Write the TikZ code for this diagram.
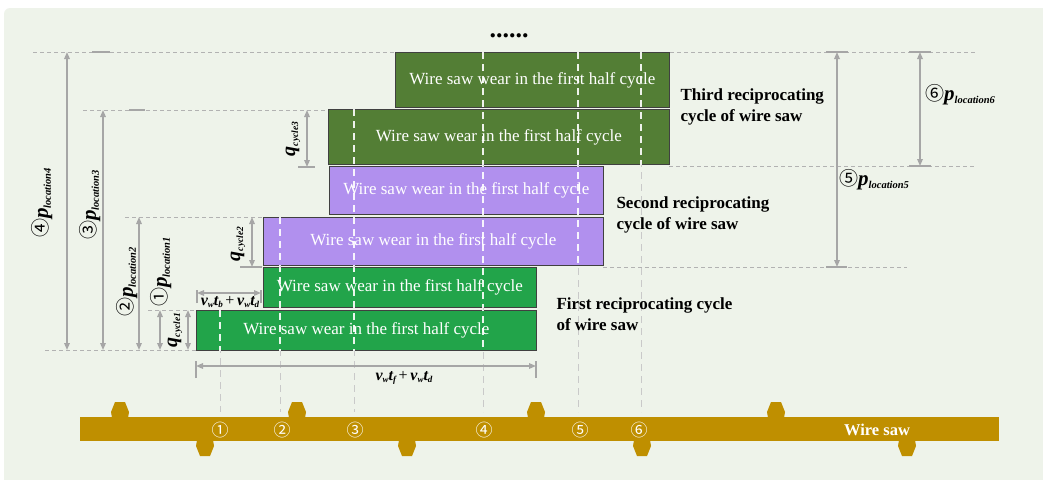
\documentclass[tikz,border=0pt]{standalone}
\usepackage{fontspec}
\setmainfont{Liberation Serif}
\newfontfamily\circfont{Noto Sans CJK SC}
\usetikzlibrary{arrows.meta}

\definecolor{bgpanel}{HTML}{EEF3EA}
\definecolor{cycA}{HTML}{22A44A}
\definecolor{cycB}{HTML}{B190EE}
\definecolor{cycC}{HTML}{537E35}
\definecolor{sawgold}{HTML}{BF8F00}
\definecolor{dimgray}{HTML}{A6A6A6}
\definecolor{guidegray}{HTML}{B2B2B2}

% p_{location n} with a circled index
\newcommand\ploc[2]{{\circfont\fontsize{19}{19}\selectfont #1}{\fontsize{21}{21}\selectfont\bfseries\itshape p}\raisebox{-3pt}{\fontsize{10.5}{10.5}\selectfont\bfseries\itshape location#2}}
% q_{cycle n}
\newcommand\qcyc[1]{{\fontsize{20}{20}\selectfont\bfseries\itshape q}\raisebox{-3pt}{\fontsize{9.5}{9.5}\selectfont\bfseries\itshape cycle#1}}
% v_w t_x
\newcommand\vwt[1]{{\bfseries\itshape v}\raisebox{-2.5pt}{\fontsize{9}{9}\selectfont\bfseries\itshape w}{\bfseries\itshape t}\raisebox{-2.5pt}{\fontsize{9}{9}\selectfont\bfseries\itshape #1}}

\begin{document}
\begin{tikzpicture}[x=1pt,y=-1pt,
  guide/.style={draw=guidegray, line width=0.9pt, dash pattern=on 4pt off 3pt},
  vguide/.style={draw=guidegray!70, line width=1pt, dash pattern=on 7pt off 5pt},
  vguidew/.style={draw=white, line width=1.1pt, dash pattern=on 7pt off 5pt, opacity=0.9},
  wearbox/.style={draw=black!75, line width=0.8pt, anchor=north west, inner sep=0pt,
    text=white, font=\fontsize{17}{17}\selectfont},
  dimarrow/.style={draw=dimgray, line width=1.5pt,
    {Triangle[length=7pt,width=5.5pt]}-{Triangle[length=7pt,width=5.5pt]}},
  dimtick/.style={draw=dimgray, line width=1.2pt},
  cyclabel/.style={anchor=west, align=left, font=\fontsize{17}{21}\selectfont\bfseries},
  dimlabel/.style={inner sep=0pt},
  posmark/.style={text=white, inner sep=0pt, font=\circfont\fontsize{17}{17}\selectfont},
]
\useasboundingbox (0,0) rectangle (1043,479);
\fill[white] (0,0) rectangle (1043,479);
\fill[bgpanel, rounded corners=6pt] (4,8) rectangle (1060,495);

% horizontal guide lines
\draw[guide] (33,52) -- (975,52);
\draw[guide] (83,110) -- (328,110);
\draw[guide] (125,217) -- (263,217);
\draw[guide] (148,310) -- (196,310);
\draw[guide] (45,350) -- (196,350);
\draw[guide] (669,166) -- (975,166);
\draw[guide] (603,267) -- (907,267);

% short solid ticks on the guides
\draw[dimtick] (92,52) -- (110,52);
\draw[dimtick] (826,52) -- (848,52);
\draw[dimtick] (909,52) -- (931,52);
\draw[dimtick] (129,110) -- (145,110);
\draw[dimtick] (298,167) -- (315,167);
\draw[dimtick] (240,267) -- (262,267);
\draw[dimtick] (826,267) -- (847,267);
\draw[dimtick] (909,166) -- (931,166);

% vertical position lines
\foreach \x/\y in {220/310, 280/217, 354/109, 483/52, 578/52, 641/52}
  \draw[vguide] (\x,\y) -- (\x,412);

% wear blocks
\node[wearbox, fill=cycA, minimum width=340pt, minimum height=40pt] (b1) at (196,310) {Wire saw wear in the first half cycle};
\node[wearbox, fill=cycA, minimum width=273pt, minimum height=40pt] (b2) at (263,267) {Wire saw wear in the first half cycle};
\node[wearbox, fill=cycB, minimum width=340pt, minimum height=48pt] (b3) at (263,217) {Wire saw wear in the first half cycle};
\node[wearbox, fill=cycB, minimum width=274pt, minimum height=48pt] (b4) at (329,166) {Wire saw wear in the first half cycle};
\node[wearbox, fill=cycC, minimum width=341pt, minimum height=55pt] (b5) at (328,109) {Wire saw wear in the first half cycle};
\node[wearbox, fill=cycC, minimum width=274pt, minimum height=55pt] (b6) at (395,52) {Wire saw wear in the first half cycle};

% position lines show white across the blocks
\begin{scope}
  \clip (b1.north west) rectangle (b1.south east)
        (b2.north west) rectangle (b2.south east)
        (b3.north west) rectangle (b3.south east)
        (b4.north west) rectangle (b4.south east)
        (b5.north west) rectangle (b5.south east)
        (b6.north west) rectangle (b6.south east);
  \foreach \x/\y in {220/310, 280/217, 354/109, 483/52, 578/52, 641/52}
    \draw[vguidew] (\x,\y) -- (\x,412);
\end{scope}

% cycle captions
\node[cyclabel] (c3) at (677,107) {Third reciprocating\\cycle of wire saw};
\node[cyclabel] (c2) at (613,215) {Second reciprocating\\cycle of wire saw};
\node[cyclabel] (c1) at (553,314) {First reciprocating cycle\\of wire saw};
\node[font=\fontsize{26}{26}\selectfont\bfseries, inner sep=0pt] (dots) at (509,36) {......};

% dimension end points
\coordinate (p4t) at (67,52);   \coordinate (p4b) at (67,350);
\coordinate (p3t) at (103,110); \coordinate (p3b) at (103,350);
\coordinate (p2t) at (139,217); \coordinate (p2b) at (139,350);
\coordinate (p1t) at (160,310); \coordinate (p1b) at (160,350);
\coordinate (q1t) at (188,310); \coordinate (q1b) at (188,350);
\coordinate (q2t) at (252,217); \coordinate (q2b) at (252,267);
\coordinate (q3t) at (307,110); \coordinate (q3b) at (307,167);
\coordinate (p5t) at (837,52);  \coordinate (p5b) at (837,267);
\coordinate (p6t) at (920,52);  \coordinate (p6b) at (920,166);
\coordinate (hbl) at (197,293); \coordinate (hbr) at (261,293);
\coordinate (hfl) at (196,366); \coordinate (hfr) at (536,366);

\draw[dimarrow] (p4t) -- (p4b);
\draw[dimarrow] (p3t) -- (p3b);
\draw[dimarrow] (p2t) -- (p2b);
\draw[dimarrow] (p1t) -- (p1b);
\draw[dimarrow] (q1t) -- (q1b);
\draw[dimarrow] (q2t) -- (q2b);
\draw[dimarrow] (q3t) -- (q3b);
\draw[dimarrow] (p5t) -- (p5b);
\draw[dimarrow] (p6t) -- (p6b);
\draw[dimarrow] (hbl) -- (hbr);
\draw[dimarrow] (hfl) -- (hfr);

% extension ticks of the horizontal dimensions
\draw[dimtick] ([yshift=-10pt]hbl) -- ([yshift=3pt]hbl);
\draw[dimtick] ([yshift=-10pt]hbr) -- ([yshift=3pt]hbr);
\draw[dimtick] ([yshift=-12pt]hfl) -- ([yshift=5pt]hfl);
\draw[dimtick] ([yshift=-12pt]hfr) -- ([yshift=5pt]hfr);

% dimension labels
\node[dimlabel, rotate=90] (l4) at (42,203) {\ploc{④}{4}};
\node[dimlabel, rotate=90] (l3) at (90,205) {\ploc{③}{3}};
\node[dimlabel, rotate=90] (l2) at (127,282) {\ploc{②}{2}};
\node[dimlabel, rotate=90] (l1) at (161,272) {\ploc{①}{1}};
\node[dimlabel, rotate=90] (lq1) at (175,330) {\qcyc{1}};
\node[dimlabel, rotate=90] (lq2) at (238,244) {\qcyc{2}};
\node[dimlabel, rotate=90] (lq3) at (293,139) {\qcyc{3}};
\node[dimlabel, anchor=west] (l5) at (839,180) {\ploc{⑤}{5}};
\node[dimlabel, anchor=west] (l6) at (925,95) {\ploc{⑥}{6}};
\node[dimlabel, font=\fontsize{16}{16}\selectfont] (lb) at (230,302) {\vwt{b}\,+\,\vwt{d}};
\node[dimlabel, font=\fontsize{16}{16}\selectfont] (lf) at (404,378) {\vwt{f}\,+\,\vwt{d}};

% wire saw with beads
\node[fill=sawgold, inner sep=0pt, anchor=north west, minimum width=919pt, minimum height=24pt] (wire) at (80,417) {};
\foreach \cx in {120,297,536,776}
  \fill[sawgold] (\cx-5,402) -- (\cx+5,402) -- (\cx+9,412) -- (\cx+8,418) -- (\cx-8,418) -- (\cx-9,412) -- cycle;
\foreach \cx in {205,407,642,907}
  \fill[sawgold] (\cx-8,440) -- (\cx+8,440) -- (\cx+9,446) -- (\cx+5,456) -- (\cx-5,456) -- (\cx-9,446) -- cycle;
\node[posmark] (m1) at (220,430) {①};
\node[posmark] (m2) at (282,430) {②};
\node[posmark] (m3) at (355,430) {③};
\node[posmark] (m4) at (484,430) {④};
\node[posmark] (m5) at (580,430) {⑤};
\node[posmark] (m6) at (639,430) {⑥};
\node[text=white, font=\fontsize{16.5}{16.5}\selectfont\bfseries] (wlabel) at (877,430) {Wire saw};
\end{tikzpicture}
\end{document}
